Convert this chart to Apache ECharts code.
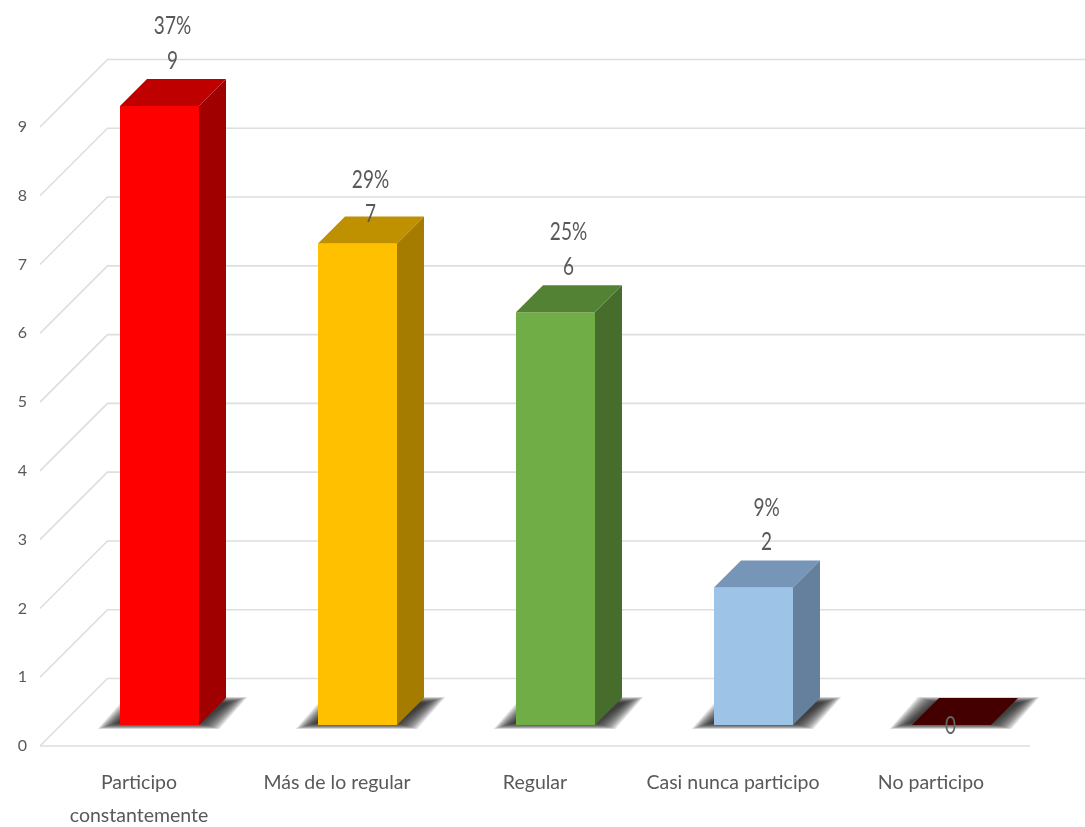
<!DOCTYPE html>
<html>
<head>
<meta charset="utf-8">
<style>html,body{margin:0;padding:0;background:#fff}#c{width:1085px;height:827px}</style>
<script src="https://cdn.jsdelivr.net/npm/echarts@6/dist/echarts.min.js"></script>
</head>
<body>
<div id="c"></div>
<script>
const categories = ['Participo\nconstantemente', 'Más de lo regular', 'Regular', 'Casi nunca participo', 'No participo'];
const counts = [9, 7, 6, 2, 0];
const percents = ['37%', '29%', '25%', '9%', ''];
const frontColors = ['#ff0000', '#ffc000', '#70ad47', '#9dc3e6', '#440000'];
const topColors = ['#bf0000', '#bf9000', '#548235', '#7695b7', '#440000'];
const sideColors = ['#a00000', '#a67c00', '#476d2d', '#64809c', '#440000'];
const gridTicks = [0, 1, 2, 3, 4, 5, 6, 7, 8, 9];

const FONT = 'Lato,"Liberation Sans",sans-serif';
const TEXT = '#595959';
const LIFT = 21, SHIFT = 20.5, HALF = 39.5, DEPTH = 27, WALL = 67.5;

function poly(points, fill) {
  return { type: 'polygon', shape: { points }, style: { fill } };
}
function wallItem(params, api) {
  const v = api.value(0);
  const rect = params.coordSys;
  const y = api.coord([0, v])[1];
  const x0 = rect.x;
  const lineStyle = { stroke: '#dedede', lineWidth: 1.6, fill: null };
  const children = [{
    type: 'polyline',
    shape: { points: [[x0, y], [x0 + WALL, y - WALL], [1085, y - WALL]] },
    style: lineStyle
  }];
  if (v === 0) {
    children.push({ type: 'line', shape: { x1: x0, y1: y, x2: x0 + rect.width, y2: y }, style: lineStyle });
  }
  return { type: 'group', children };
}
function shadowItem(params, api) {
  const p = api.coord([api.value(0), 0]);
  const cx = p[0] + SHIFT, by = p[1] - LIFT;
  const children = [];
  for (let k = 20; k >= 0; k--) {
    const ex = k * 1.0, ey = k * 0.3;
    children.push({
      type: 'polygon',
      shape: { points: [
        [cx - 42 - ex, by - 2 + ey], [cx + 40 + ex, by - 2 + ey],
        [cx + 68 + ex, by - 22 - ey], [cx - 14 - ex, by - 22 - ey]
      ] },
      style: { fill: 'rgba(40,40,40,0.085)' }
    });
  }
  return { type: 'group', children };
}
function label(text, x, y, fill) {
  return {
    type: 'text', x, y, scaleX: 0.76,
    style: { text, x: 0, y: 0, fill, font: '25px ' + FONT, textAlign: 'center', textVerticalAlign: 'middle' }
  };
}
function barItem(params, api) {
  const i = api.value(0), v = api.value(1);
  const base = api.coord([i, 0]), top = api.coord([i, v]);
  const cx = base[0] + SHIFT, by = base[1] - LIFT, ty = top[1] - LIFT;
  const l = cx - HALF, r = cx + HALF;
  const children = [];
  if (v > 0) {
    children.push(poly([[l, by], [r, by], [r, ty], [l, ty]], frontColors[i]));
    children.push(poly([[r, by], [r + DEPTH, by - DEPTH], [r + DEPTH, ty - DEPTH], [r, ty]], sideColors[i]));
  }
  children.push(poly([[l, ty], [r, ty], [r + DEPTH, ty - DEPTH], [l + DEPTH, ty - DEPTH]], topColors[i]));
  const nudge = i === 1 ? 16 : 0;
  if (v > 0) {
    children.push(label(String(v), cx + 13, ty - 45.5 + nudge, TEXT));
    children.push(label(percents[i], cx + 13, ty - 80 + nudge, TEXT));
  } else {
    children.push(label(String(v), cx - 1, ty + 1, '#666666'));
  }
  return { type: 'group', children };
}

const chart = echarts.init(document.getElementById('c'), null, { renderer: 'canvas' });
chart.setOption({
  animation: false,
  backgroundColor: '#ffffff',
  grid: { left: 40, top: 127, width: 990, height: 619, outerBoundsMode: 'none' },
  xAxis: {
    type: 'category',
    data: categories,
    axisLine: { show: false },
    axisTick: { show: false },
    axisLabel: { color: TEXT, fontFamily: FONT, fontSize: 19.5, lineHeight: 33, margin: 20, interval: 0 }
  },
  yAxis: {
    type: 'value',
    min: 0, max: 9, interval: 1,
    axisLine: { show: false },
    axisTick: { show: false },
    splitLine: { show: false },
    axisLabel: { color: TEXT, fontFamily: FONT, fontSize: 16, margin: 13 }
  },
  series: [
    { type: 'custom', z: 1, clip: false, silent: true, renderItem: wallItem, data: gridTicks.map(v => [v]), encode: { y: 0 } },
    { type: 'custom', z: 2, clip: false, silent: true, renderItem: shadowItem, data: counts.map((v, i) => [i, v]), encode: { x: 0, y: 1 } },
    { type: 'custom', z: 3, clip: false, silent: true, renderItem: barItem, data: counts.map((v, i) => [i, v]), encode: { x: 0, y: 1 } }
  ]
});
</script>
</body>
</html>
